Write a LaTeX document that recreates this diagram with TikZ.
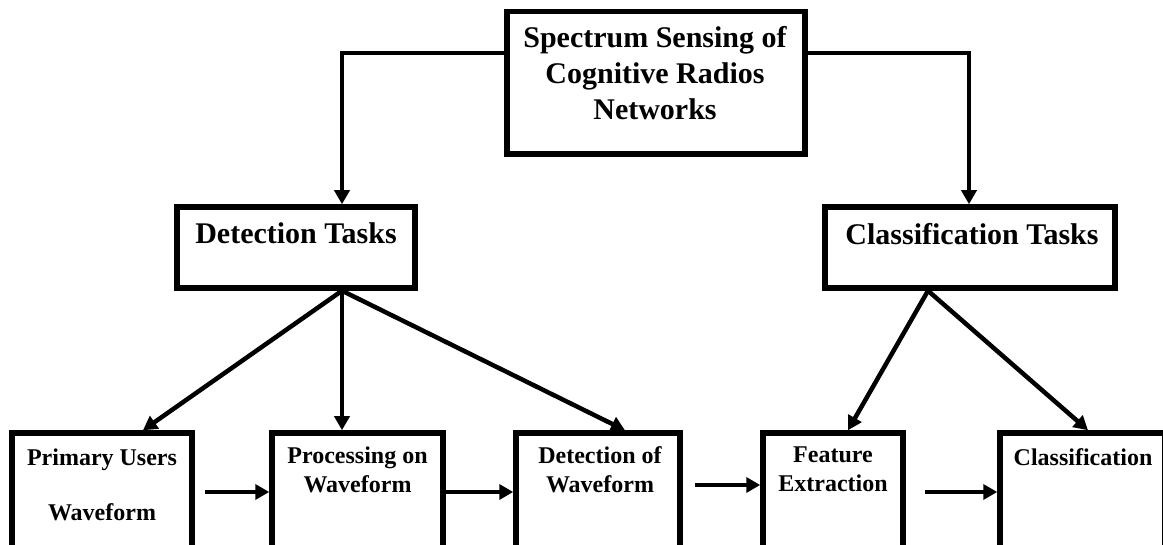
\documentclass[tikz,border=0pt]{standalone}
\usepackage{fontspec}
\setmainfont{Liberation Serif}
\usetikzlibrary{arrows.meta,calc}
\begin{document}
\begin{tikzpicture}[x=1pt,y=1pt,
  box/.style={draw, line width=5.5pt, rectangle, inner sep=0pt},
  arr/.style={line width=4.5pt, -{Triangle[length=14pt,width=15pt]}},
  big/.style={font=\fontsize{30}{36}\selectfont\bfseries, align=center, inner sep=0pt},
  small/.style={font=\fontsize{24}{29}\selectfont\bfseries, align=center, inner sep=0pt}]
\useasboundingbox (0,0) rectangle (1163,545);

% boxes
\node[box, minimum width=298pt, minimum height=142.5pt] (top) at (656,462.25) {};
\node[box, minimum width=238pt, minimum height=81pt] (det) at (296,297.5) {};
\node[box, minimum width=290pt, minimum height=81pt] (cls) at (970,297.5) {};
\node[box, minimum width=180pt, minimum height=115pt] (pu) at (102,54.5) {};
\node[box, minimum width=171pt, minimum height=115pt] (proc) at (357.5,54.5) {};
\node[box, minimum width=164pt, minimum height=115pt] (dw) at (598,54.5) {};
\node[box, minimum width=140pt, minimum height=115pt] (fe) at (833,54.5) {};
\node[box, minimum width=165pt, minimum height=115pt] (cl) at (1082.5,54.5) {};

% texts
\node[big, anchor=north] (toptxt) at (655,518.7) {Spectrum Sensing of\\Cognitive Radios\\Networks};
\node[big, anchor=base] (dettxt) at (296,301) {Detection Tasks};
\node[big, anchor=base] (clstxt) at (972,300) {Classification Tasks};
\node[small, anchor=north] (putxt) at (102,96.6) {Primary Users\\[26pt]Waveform};
\node[small, anchor=north] (proctxt) at (357.5,98.6) {Processing on\\Waveform};
\node[small, anchor=north] (dwtxt) at (600,98.6) {Detection of\\Waveform};
\node[small, anchor=north] (fetxt) at (833,98.2) {Feature\\Extraction};
\node[small, anchor=north] (cltxt) at (1083,96.6) {Classification};

% connectors from the top box
\draw[arr] ([yshift=29.75pt]top.west) -| ([xshift=46pt]det.north);
\draw[arr] ([yshift=29.75pt]top.east) -| ([xshift=-1pt]cls.north);

% detection branch
\draw[arr] ([xshift=46pt]det.south) -- ([xshift=41pt]pu.north);
\draw[arr] ([xshift=46pt]det.south) -- ([xshift=-15.5pt]proc.north);
\draw[arr] ([xshift=46pt]det.south) -- ([xshift=27pt]dw.north);

% classification branch
\draw[arr] ([xshift=-42pt]cls.south) -- ([xshift=15pt]fe.north);
\draw[arr] ([xshift=-42pt]cls.south) -- ([xshift=5.5pt]cl.north);

% pipeline
\draw[arr] ([xshift=10pt,yshift=-1.5pt]pu.east) -- ([yshift=-1.5pt]proc.west);
\draw[arr] ([yshift=-1.5pt]proc.east) -- ([yshift=-1.5pt]dw.west);
\draw[arr] ([xshift=12pt,yshift=5.5pt]dw.east) -- ([yshift=5.5pt]fe.west);
\draw[arr] ([xshift=19pt,yshift=-1.5pt]fe.east) -- ([yshift=-1.5pt]cl.west);
\end{tikzpicture}
\end{document}
